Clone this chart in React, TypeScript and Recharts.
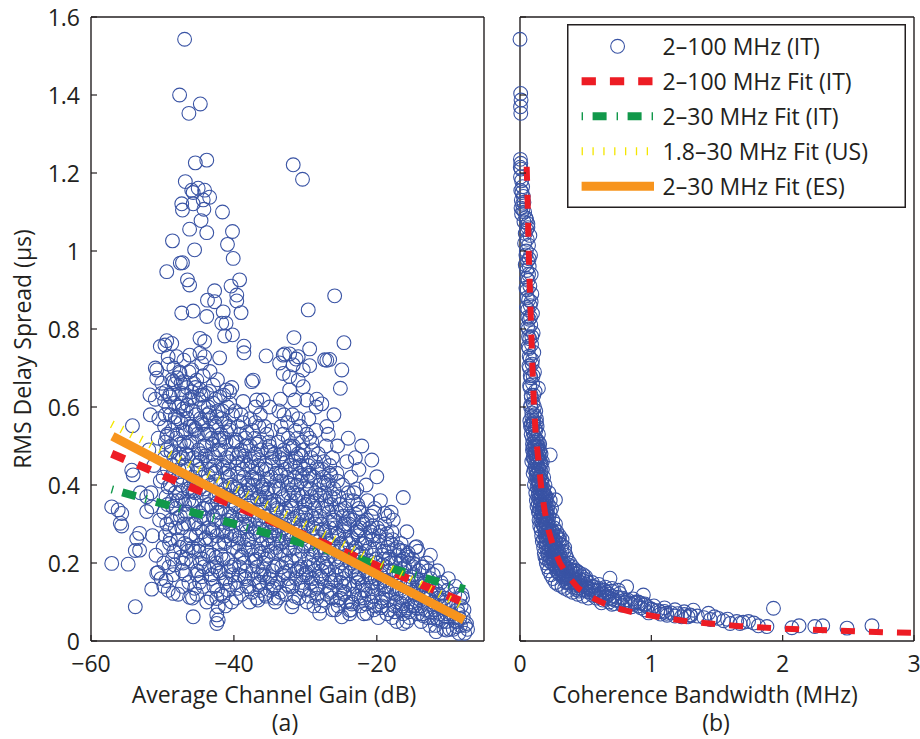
import React from 'react';
import { ComposedChart, Scatter, XAxis, YAxis, Legend } from 'recharts';

type P = [number, number];

// ---------- axes ----------
const gainTicks = [-60, -40, -20];
const delayTicks = [0, 0.2, 0.4, 0.6, 0.8, 1, 1.2, 1.4, 1.6];
const bandwidthTicks = [0, 1, 2, 3];
const gainDomain = [-60, -5];
const delayDomain = [0, 1.6];
const bandwidthDomain = [0, 3];

const axisTitles = ['Average Channel Gain (dB)', 'Coherence Bandwidth (MHz)', 'RMS Delay Spread (\u03bcs)'];
const panelTags = ['(a)', '(b)'];
const legendLabels = [
  '2\u2013100 MHz (IT)',
  '2\u2013100 MHz Fit (IT)',
  '2\u201330 MHz Fit (IT)',
  '1.8\u201330 MHz Fit (US)',
  '2\u201330 MHz Fit (ES)',
];

// ---------- panel (a): delay spread vs. average channel gain ----------
const leftHigh: P[] = [
  [-46.9,1.543],[-47.6,1.40],[-44.7,1.377],[-46.3,1.353],[-45.4,1.226],[-43.8,1.233],[-31.7,1.221],[-30.4,1.184],
  [-46.8,1.178],[-45.9,1.156],[-45.0,1.161],[-44.1,1.156],[-43.4,1.138],[-44.3,1.131],[-47.3,1.121],[-47.2,1.105],
  [-45.7,1.121],[-44.2,1.107],[-45.7,1.15],[-41.6,1.10],[-44.6,1.078],[-46.2,1.056],[-43.8,1.047],[-40.2,1.05],
  [-48.6,1.026],[-40.9,1.017],[-45.5,1.003],[-40.1,.981],[-47.5,.969],[-47.2,.97],[-49.4,.947],[-46.5,.926],
  [-46.2,.913],[-39.2,.926],[-40.4,.91],[-42.7,.898],[-39.6,.887],[-39.6,.872],[-43.7,.874],[-42.7,.87],
  [-25.9,.885],[-29.6,.849],[-47.3,.841],[-45.7,.846],[-43.8,.832],[-41.5,.844],[-39.0,.842],[-41.7,.815],
  [-41.1,.815],[-41.3,.782],[-40.2,.785],[-31.6,.778],[-24.6,.765],[-29.4,.749],[-38.6,.756],[-38.6,.739],
  [-35.5,.731],[-49.4,.77],[-48.7,.763],[-50.3,.755],[-42.0,.726],[-32.9,.736],[-31.3,.723],[-27.3,.721],
  [-26.6,.722],[-29.4,.706],[-24.9,.695],[-51.0,.70],[-50.8,.695],[-33.6,.713],[-37.3,.669],[-25.1,.648],
  [-27.0,.72],[-33.1,.733],[-32.2,.736],[-31.0,.729],[-31.7,.708],[-30.3,.695],[-33.1,.686],[-32.2,.678],
  [-31.0,.669],[-30.3,.652],[-32.2,.644],[-31.5,.618],[-29.8,.618],[-28.4,.62],[-27.7,.608],[-49.65,.759],
  [-44.75,.776],[-44.1,.768],[-49.2,.729],[-48.0,.729],[-46.2,.733],[-44.75,.738],[-44.1,.729],[-47.55,.686],
  [-45.9,.695],[-44.5,.712],[-43.35,.691],[-50.8,.674],[-50.1,.661],[-48.5,.665],[-47.1,.665],[-45.2,.669],
  [-42.9,.656],[-41.0,.644],[-51.75,.631],[-50.1,.635],[-48.95,.626],[-47.3,.635],[-45.9,.639],[-44.3,.631],
  [-41.96,.626],[-40.6,.639],[-38.7,.614],[-37.5,.665],[-36.8,.618],[-35.9,.618],
];

const leftEdge: P[] = [
  [-54.2,.552],[-57.1,.344],[-56.2,.336],[-55.7,.327],[-55.9,.302],[-55.7,.295],[-53.2,.276],[-53.6,.263],
  [-53.2,.233],[-53.8,.232],[-57.1,.199],[-54.8,.197],[-53.8,.088],[-54.3,.438],[-54.1,.426],[-53.1,.38],
  [-52.2,.37],[-51.5,.344],[-52.2,.332],[-50.8,.174],[-50.6,.176],[-51.5,.133],[-48.5,.122],[-46.2,.112],
  [-45.7,.062],[-42.4,.067],[-42.2,.054],[-42.4,.045],[-42.4,.109],[-42.2,.088],[-36.6,.105],[-31.9,.088],
  [-28.0,.071],[-24.9,.062],[-21.4,.071],[-16.3,.045],[-23.8,.079],[-11.7,.024],[-10.25,.028],[-8.85,.037],
  [-7.7,.02],[-7.45,.045],[-8.4,.058],[-16.3,.368],[-17.7,.31],[-18.9,.327],[-22.1,.5],[-20.7,.464],
  [-20.0,.421],[-14.45,.242],[-15.6,.225],[-16.8,.233],[-14.9,.199],[-13.5,.19],
  [-27,.55],[-25.5,.5],[-23,.47],[-22.5,.44],[-26,.58],[-28.5,.6],[-24,.52],[-29.5,.57],[-26.8,.53],
  [-21.5,.4],[-19.5,.36],[-18,.33],[-15.8,.28],[-12.5,.22],[-11.5,.18],[-10,.16],[-9,.14],[-8,.11],
  [-35,.6],[-37,.6],[-33.5,.62],[-36.3,.58],
  [-51.2,.45],[-50.6,.52],[-51.7,.58],[-50.3,.41],[-51.4,.27],[-50.9,.22],[-50.4,.31],[-51.9,.49],
  [-50.2,.16],[-51.0,.62],[-50.5,.57],[-51.6,.38],
];

const leftCoreWest: P[] = [
  [-49.8,.14],[-49.1,.19],[-48.4,.23],[-49.6,.27],[-48.8,.31],[-49.3,.35],[-48.2,.38],[-49.9,.42],[-48.6,.45],
  [-49.4,.49],[-48.1,.52],[-49.7,.55],[-48.9,.58],[-48.3,.61],[-49.5,.64],[-48.7,.67],[-49.2,.71],[-48.5,.17],
  [-49.0,.25],[-48.2,.29],[-49.8,.33],[-48.9,.40],[-49.3,.44],[-48.4,.47],[-49.6,.51],[-48.7,.54],[-49.1,.60],
  [-48.3,.56],[-49.5,.37],[-48.6,.21],[-49.9,.24],[-48.1,.34],[-49.2,.13],[-48.5,.43],[-49.7,.47],[-48.8,.50],
  [-49.0,.63],[-48.2,.66],[-49.4,.30],[-48.9,.26],[-49.6,.58],[-48.4,.70],[-49.3,.53],[-48.6,.36],[-49.8,.20],
  [-47.8,.12],[-46.3,.15],[-47.2,.18],[-46.7,.21],[-47.5,.24],[-46.1,.27],[-47.0,.30],[-46.6,.33],[-47.9,.36],
  [-46.4,.39],[-47.3,.42],[-46.8,.45],[-47.6,.48],[-46.2,.51],[-47.1,.54],[-46.5,.57],[-47.7,.60],[-46.9,.63],
  [-47.4,.66],[-46.3,.69],[-47.0,.72],[-47.8,.26],[-46.4,.23],[-47.3,.29],[-46.9,.35],[-47.6,.38],[-46.1,.41],
  [-47.2,.47],[-46.6,.50],[-47.9,.53],[-46.7,.59],[-47.4,.56],[-46.2,.62],[-47.1,.20],[-46.8,.17],[-47.5,.32],
  [-46.5,.44],[-47.7,.44],[-46.3,.36],[-47.0,.51],[-46.6,.65],[-47.2,.14],[-46.4,.30],[-47.8,.57],[-46.9,.25],
  [-47.4,.40],[-46.1,.55],[-47.6,.69],[-46.7,.48],[-47.3,.61],
  [-45.8,.11],[-44.3,.14],[-45.2,.17],[-44.7,.20],[-45.5,.23],[-44.1,.26],[-45.0,.29],[-44.6,.32],[-45.9,.35],
  [-44.4,.38],[-45.3,.41],[-44.8,.44],[-45.6,.47],[-44.2,.50],[-45.1,.53],[-44.5,.56],[-45.7,.59],[-44.9,.62],
  [-45.4,.65],[-44.3,.68],[-45.8,.24],[-44.4,.21],[-45.3,.27],[-44.9,.33],[-45.6,.36],[-44.1,.39],[-45.2,.45],
  [-44.6,.48],[-45.9,.51],[-44.7,.57],[-45.4,.54],[-44.2,.60],[-45.1,.18],[-44.8,.15],[-45.5,.30],[-44.5,.42],
  [-45.7,.42],[-44.3,.34],[-45.0,.49],[-44.6,.63],[-45.2,.12],[-44.4,.28],[-45.8,.55],[-44.9,.23],[-45.4,.38],
  [-44.1,.53],[-45.6,.66],[-44.7,.46],[-45.3,.58],[-44.2,.19],
  [-43.8,.10],[-42.3,.13],[-43.2,.16],[-42.7,.19],[-43.5,.22],[-42.1,.25],[-43.0,.28],[-42.6,.31],[-43.9,.34],
  [-42.4,.37],[-43.3,.40],[-42.8,.43],[-43.6,.46],[-42.2,.49],[-43.1,.52],[-42.5,.55],[-43.7,.58],[-42.9,.61],
  [-43.4,.64],[-42.3,.67],[-43.8,.23],[-42.4,.20],[-43.3,.26],[-42.9,.32],[-43.6,.35],[-42.1,.38],[-43.2,.44],
  [-42.6,.47],[-43.9,.50],[-42.7,.56],[-43.4,.53],[-42.2,.59],[-43.1,.17],[-42.8,.14],[-43.5,.29],[-42.5,.41],
  [-43.7,.41],[-42.3,.33],[-43.0,.48],[-42.6,.62],[-43.2,.11],[-42.4,.27],[-43.8,.54],[-42.9,.22],[-43.4,.37],
  [-42.1,.52],[-43.6,.60],[-42.7,.45],[-43.3,.57],[-42.2,.18],
];

const leftCoreMid: P[] = [
  [-41.8,.12],[-40.3,.10],[-41.2,.15],[-40.7,.18],[-41.5,.21],[-40.1,.24],[-41.0,.27],[-40.6,.30],[-41.9,.33],
  [-40.4,.36],[-41.3,.39],[-40.8,.42],[-41.6,.45],[-40.2,.48],[-41.1,.51],[-40.5,.54],[-41.7,.57],[-40.9,.60],
  [-41.4,.63],[-40.3,.65],[-41.8,.22],[-40.4,.19],[-41.3,.25],[-40.9,.31],[-41.6,.34],[-40.1,.37],[-41.2,.43],
  [-40.6,.46],[-41.9,.49],[-40.7,.55],[-41.4,.52],[-40.2,.58],[-41.1,.16],[-40.8,.13],[-41.5,.28],[-40.5,.40],
  [-41.7,.40],[-40.3,.32],[-41.0,.47],[-40.6,.61],[-41.2,.09],[-40.4,.26],[-41.8,.53],[-40.9,.21],[-41.4,.36],
  [-40.1,.51],[-41.6,.59],[-40.7,.44],[-41.3,.56],[-40.2,.17],
  [-39.7,.11],[-38.2,.14],[-39.3,.17],[-38.6,.20],[-39.5,.23],[-38.1,.26],[-39.0,.29],[-38.5,.32],[-39.9,.35],
  [-38.4,.38],[-39.2,.41],[-38.8,.44],[-39.6,.47],[-38.3,.50],[-39.1,.53],[-38.7,.56],[-39.8,.59],[-38.9,.22],
  [-39.4,.25],[-38.2,.28],[-39.7,.31],[-38.6,.34],[-39.3,.37],[-38.0,.40],[-39.5,.43],[-38.7,.46],[-39.0,.49],
  [-38.4,.52],[-39.8,.15],[-38.9,.12],[-39.2,.19],[-38.5,.24],[-39.6,.39],[-38.1,.45],[-39.4,.55],[-38.8,.30],
  [-39.1,.33],[-38.3,.18],[-39.9,.27],[-38.6,.42],[-39.3,.48],[-38.0,.36],[-39.7,.51],[-38.4,.16],[-39.0,.58],
  [-37.8,.10],[-36.3,.13],[-37.2,.16],[-36.7,.19],[-37.5,.22],[-36.1,.25],[-37.0,.28],[-36.6,.31],[-37.9,.34],
  [-36.4,.37],[-37.3,.40],[-36.8,.43],[-37.6,.46],[-36.2,.49],[-37.1,.52],[-36.5,.55],[-37.7,.57],[-36.9,.21],
  [-37.4,.24],[-36.3,.27],[-37.8,.30],[-36.7,.33],[-37.2,.36],[-36.0,.39],[-37.5,.42],[-36.6,.45],[-37.0,.48],
  [-36.4,.51],[-37.9,.14],[-36.8,.11],[-37.3,.18],[-36.5,.23],[-37.6,.38],[-36.1,.44],[-37.4,.54],[-36.9,.29],
  [-37.1,.32],[-36.2,.17],[-37.8,.26],[-36.6,.41],[-37.2,.47],[-36.0,.35],[-37.7,.50],[-36.4,.15],[-37.0,.56],
  [-35.7,.12],[-34.2,.10],[-35.3,.15],[-34.6,.18],[-35.5,.21],[-34.1,.24],[-35.0,.27],[-34.5,.30],[-35.9,.33],
  [-34.4,.36],[-35.2,.39],[-34.8,.42],[-35.6,.45],[-34.3,.48],[-35.1,.51],[-34.7,.54],[-35.8,.20],[-34.9,.23],
  [-35.4,.26],[-34.2,.29],[-35.7,.32],[-34.6,.35],[-35.3,.38],[-34.0,.41],[-35.5,.44],[-34.7,.47],[-35.0,.50],
  [-34.4,.14],[-35.8,.17],[-34.9,.13],[-35.2,.22],[-34.5,.25],[-35.6,.37],[-34.1,.43],[-35.4,.53],[-34.8,.28],
  [-35.1,.31],[-34.3,.19],[-35.9,.40],[-34.6,.46],[-35.3,.49],[-34.0,.34],[-35.7,.55],[-34.4,.11],[-35.0,.16],
  [-33.8,.11],[-32.3,.14],[-33.2,.17],[-32.7,.20],[-33.5,.23],[-32.1,.26],[-33.0,.29],[-32.6,.32],[-33.9,.35],
  [-32.4,.38],[-33.3,.41],[-32.8,.44],[-33.6,.47],[-32.2,.50],[-33.1,.53],[-32.5,.56],[-33.7,.59],[-32.9,.22],
  [-33.4,.25],[-32.3,.28],[-33.8,.31],[-32.7,.34],[-33.2,.37],[-32.0,.40],[-33.5,.43],[-32.6,.46],[-33.0,.49],
  [-32.4,.52],[-33.9,.15],[-32.8,.12],[-33.3,.19],[-32.5,.24],[-33.6,.39],[-32.1,.45],[-33.4,.55],[-32.9,.30],
  [-33.1,.33],[-32.2,.18],[-33.7,.27],[-32.6,.42],[-33.2,.48],[-32.0,.36],[-33.8,.51],[-32.4,.16],[-33.0,.58],
  [-31.7,.10],[-30.2,.13],[-31.3,.16],[-30.6,.19],[-31.5,.22],[-30.1,.25],[-31.0,.28],[-30.5,.31],[-31.9,.34],
  [-30.4,.37],[-31.2,.40],[-30.8,.43],[-31.6,.46],[-30.3,.49],[-31.1,.52],[-30.7,.55],[-31.8,.58],[-30.9,.21],
  [-31.4,.24],[-30.2,.27],[-31.7,.30],[-30.6,.33],[-31.3,.36],[-30.0,.39],[-31.5,.42],[-30.7,.45],[-31.0,.48],
  [-30.4,.51],[-31.8,.14],[-30.9,.11],[-31.2,.18],[-30.5,.23],[-31.6,.38],[-30.1,.44],[-31.4,.54],[-30.8,.29],
  [-31.1,.32],[-30.3,.17],[-31.9,.26],[-30.6,.41],[-31.3,.47],[-30.0,.35],[-31.7,.50],[-30.4,.15],[-31.0,.57],
  [-29.8,.10],[-28.3,.12],[-29.2,.15],[-28.7,.18],[-29.5,.21],[-28.1,.24],[-29.0,.27],[-28.6,.30],[-29.9,.33],
  [-28.4,.36],[-29.3,.39],[-28.8,.42],[-29.6,.45],[-28.2,.48],[-29.1,.51],[-28.5,.54],[-29.7,.19],[-28.9,.22],
  [-29.4,.25],[-28.3,.28],[-29.8,.31],[-28.7,.34],[-29.2,.37],[-28.0,.40],[-29.5,.43],[-28.6,.46],[-29.0,.49],
  [-28.4,.14],[-29.9,.17],[-28.8,.09],[-29.3,.13],[-28.5,.23],[-29.6,.36],[-28.1,.44],[-29.4,.52],[-28.9,.29],
  [-29.1,.32],[-28.2,.20],[-29.7,.41],[-28.6,.38],[-29.2,.47],[-28.0,.26],[-29.8,.53],[-28.4,.11],[-29.0,.16],
];

const leftCoreEast: P[] = [
  [-27.8,.09],[-26.3,.11],[-27.2,.14],[-26.7,.17],[-27.5,.20],[-26.1,.23],[-27.0,.26],[-26.6,.29],[-27.9,.32],
  [-26.4,.35],[-27.3,.38],[-26.8,.41],[-27.6,.44],[-26.2,.47],[-27.1,.50],[-26.5,.13],[-27.7,.18],[-26.9,.21],
  [-27.4,.24],[-26.3,.27],[-27.8,.30],[-26.7,.33],[-27.2,.36],[-26.0,.39],[-27.5,.42],[-26.6,.45],[-27.0,.12],
  [-26.4,.15],[-27.9,.22],[-26.8,.25],[-27.3,.28],[-26.5,.37],[-27.6,.34],[-26.1,.31],[-27.4,.46],[-26.9,.40],
  [-27.1,.19],[-26.2,.08],[-27.7,.16],[-26.6,.43],
  [-25.8,.08],[-24.3,.10],[-25.2,.13],[-24.7,.16],[-25.5,.19],[-24.1,.22],[-25.0,.25],[-24.6,.28],[-25.9,.31],
  [-24.4,.34],[-25.3,.37],[-24.8,.40],[-25.6,.43],[-24.2,.46],[-25.1,.11],[-24.5,.14],[-25.7,.17],[-24.9,.20],
  [-25.4,.23],[-24.3,.26],[-25.8,.29],[-24.7,.32],[-25.2,.35],[-24.0,.38],[-25.5,.41],[-24.6,.12],[-25.0,.15],
  [-24.4,.18],[-25.9,.21],[-24.8,.24],[-25.3,.27],[-24.5,.30],[-25.6,.33],[-24.1,.36],[-25.4,.09],
  [-23.8,.07],[-22.3,.09],[-23.2,.12],[-22.7,.15],[-23.5,.18],[-22.1,.21],[-23.0,.24],[-22.6,.27],[-23.9,.30],
  [-22.4,.33],[-23.3,.36],[-22.8,.39],[-23.6,.42],[-22.2,.11],[-23.1,.14],[-22.5,.17],[-23.7,.20],[-22.9,.23],
  [-23.4,.26],[-22.3,.29],[-23.8,.32],[-22.7,.35],[-23.2,.38],[-22.0,.13],[-23.5,.10],[-22.6,.16],[-23.0,.19],
  [-22.4,.22],[-23.9,.25],[-22.8,.28],[-23.3,.31],[-22.5,.34],[-23.6,.08],[-22.1,.25],[-23.4,.21],
  [-21.8,.07],[-20.3,.09],[-21.2,.12],[-20.7,.15],[-21.5,.18],[-20.1,.21],[-21.0,.24],[-20.6,.27],[-21.9,.30],
  [-20.4,.33],[-21.3,.36],[-20.8,.10],[-21.6,.13],[-20.2,.16],[-21.1,.19],[-20.5,.22],[-21.7,.25],[-20.9,.28],
  [-21.4,.31],[-20.3,.34],[-21.8,.11],[-20.7,.14],[-21.2,.17],[-20.0,.20],[-21.5,.23],[-20.6,.26],[-21.0,.29],
  [-20.4,.08],[-21.9,.20],[-20.8,.32],
  [-19.8,.06],[-18.3,.08],[-19.2,.11],[-18.7,.14],[-19.5,.17],[-18.1,.20],[-19.0,.23],[-18.6,.26],[-19.9,.29],
  [-18.4,.32],[-19.3,.09],[-18.8,.12],[-19.6,.15],[-18.2,.18],[-19.1,.21],[-18.5,.24],[-19.7,.27],[-18.9,.30],
  [-19.4,.10],[-18.3,.13],[-19.8,.16],[-18.7,.19],[-19.2,.22],[-18.0,.25],[-19.5,.28],[-18.6,.07],[-19.0,.14],
  [-18.4,.21],
  [-17.8,.06],[-16.3,.07],[-17.2,.10],[-16.7,.13],[-17.5,.16],[-16.1,.19],[-17.0,.22],[-16.6,.25],[-17.9,.28],
  [-16.4,.09],[-17.3,.12],[-16.8,.15],[-17.6,.18],[-16.2,.21],[-17.1,.24],[-16.5,.11],[-17.7,.14],[-16.9,.17],
  [-17.4,.20],[-16.3,.23],[-17.8,.26],[-16.7,.08],[-17.2,.05],[-16.0,.14],[-17.5,.09],
  [-15.8,.05],[-14.3,.07],[-15.2,.09],[-14.7,.12],[-15.5,.15],[-14.1,.18],[-15.0,.21],[-14.6,.24],[-15.9,.08],
  [-14.4,.11],[-15.3,.14],[-14.8,.17],[-15.6,.20],[-14.2,.23],[-15.1,.10],[-14.5,.13],[-15.7,.16],[-14.9,.19],
  [-15.4,.06],[-14.3,.15],[-15.8,.22],[-14.7,.09],
  [-13.8,.05],[-12.3,.06],[-13.2,.08],[-12.7,.11],[-13.5,.14],[-12.1,.17],[-13.0,.20],[-12.6,.04],[-13.9,.09],
  [-12.4,.12],[-13.3,.15],[-12.8,.18],[-13.6,.07],[-12.2,.10],[-13.1,.13],[-12.5,.16],[-13.7,.19],[-12.9,.06],
  [-13.4,.11],[-12.3,.14],
  [-11.8,.04],[-10.3,.05],[-11.2,.07],[-10.7,.09],[-11.5,.11],[-10.1,.13],[-11.0,.15],[-10.6,.03],[-11.9,.08],
  [-10.4,.10],[-11.3,.12],[-10.8,.14],[-11.6,.06],[-10.2,.07],[-11.1,.09],[-10.5,.11],[-11.7,.13],[-10.9,.05],
  [-9.8,.03],[-8.3,.04],[-9.2,.06],[-8.7,.08],[-9.5,.10],[-8.1,.12],[-9.0,.05],[-8.6,.07],[-9.9,.09],
  [-8.4,.11],[-9.3,.03],[-8.8,.05],[-9.6,.07],[-8.2,.09],[-7.6,.04],[-7.9,.06],[-7.3,.03],[-9.1,.12],
  [-8.5,.02],[-7.8,.08],
];

const leftCoreFill: P[] = [
  [-49.5,.155],[-48.3,.195],[-47.4,.215],[-46.5,.245],[-49.0,.285],[-47.9,.315],[-46.8,.325],[-48.6,.345],
  [-47.2,.365],[-46.2,.385],[-49.2,.395],[-48.0,.415],[-46.9,.435],[-47.7,.465],[-48.8,.485],[-46.4,.475],
  [-47.5,.505],[-49.4,.525],[-46.7,.535],[-48.2,.575],[-47.1,.595],[-49.7,.615],[-48.5,.635],[-46.5,.605],
  [-47.9,.675],
  [-45.5,.135],[-44.5,.165],[-43.5,.185],[-42.5,.215],[-45.9,.205],[-44.9,.245],[-43.9,.265],[-42.9,.285],
  [-45.3,.305],[-44.2,.315],[-43.1,.345],[-42.3,.355],[-45.6,.385],[-44.6,.395],[-43.6,.425],[-42.6,.435],
  [-45.1,.465],[-44.0,.475],[-43.0,.505],[-42.0,.515],[-45.4,.545],[-44.4,.555],[-43.4,.585],[-42.4,.575],
  [-45.8,.625],[-44.8,.645],[-43.8,.635],
  [-41.5,.115],[-40.5,.145],[-39.5,.135],[-38.5,.165],[-37.5,.125],[-36.5,.145],[-41.9,.175],[-40.0,.195],
  [-39.0,.215],[-38.0,.235],[-37.0,.205],[-36.2,.225],[-41.3,.255],[-40.3,.275],[-39.3,.265],[-38.3,.295],
  [-37.3,.275],[-36.3,.305],[-41.7,.305],[-40.7,.325],[-39.7,.345],[-38.7,.325],[-37.7,.355],[-36.7,.365],
  [-41.1,.375],[-40.1,.395],[-39.1,.385],[-38.1,.405],[-37.1,.415],[-36.1,.395],[-41.5,.445],[-40.5,.425],
  [-39.5,.455],[-38.5,.475],[-37.5,.445],[-36.5,.465],[-41.0,.535],[-39.8,.515],[-38.2,.535],[-36.8,.505],
  [-35.5,.115],[-34.5,.135],[-33.5,.125],[-32.5,.145],[-31.5,.115],[-30.5,.135],[-35.9,.185],[-34.9,.165],
  [-33.9,.195],[-32.9,.175],[-31.9,.205],[-30.9,.185],[-35.2,.245],[-34.2,.225],[-33.2,.255],[-32.2,.235],
  [-31.2,.265],[-30.2,.245],[-35.6,.285],[-34.6,.305],[-33.6,.295],[-32.6,.275],[-31.6,.315],[-30.6,.295],
  [-35.0,.355],[-34.0,.335],[-33.0,.365],[-32.0,.345],[-31.0,.375],[-30.0,.325],[-35.4,.415],[-34.4,.395],
  [-33.4,.425],[-32.4,.405],[-31.4,.445],[-30.4,.425],[-34.8,.485],[-33.2,.465],[-31.8,.495],[-30.6,.475],
  [-29.5,.115],[-28.5,.135],[-27.5,.105],[-26.5,.125],[-25.5,.105],[-24.5,.125],[-23.5,.095],[-22.5,.115],
  [-21.5,.095],[-20.5,.115],[-29.9,.175],[-28.9,.195],[-27.9,.165],[-26.9,.185],[-25.9,.155],[-24.9,.175],
  [-23.9,.145],[-22.9,.165],[-21.9,.145],[-20.9,.165],[-29.2,.235],[-28.2,.255],[-27.2,.225],[-26.2,.245],
  [-25.2,.215],[-24.2,.235],[-23.2,.205],[-22.2,.225],[-21.2,.205],[-20.2,.235],[-29.6,.295],[-28.6,.315],
  [-27.6,.285],[-26.6,.305],[-25.6,.275],[-24.6,.295],[-23.6,.265],[-22.6,.285],[-21.6,.265],[-20.6,.295],
  [-29.0,.355],[-28.0,.375],[-27.0,.345],[-26.0,.365],[-25.0,.335],[-24.0,.315],[-23.0,.325],[-22.0,.305],
  [-29.4,.425],[-28.4,.445],[-27.4,.405],[-26.4,.425],
  [-19.5,.085],[-18.5,.105],[-17.5,.075],[-16.5,.095],[-15.5,.075],[-14.5,.085],[-13.5,.065],[-12.5,.075],
  [-11.5,.055],[-10.5,.065],[-19.9,.135],[-18.9,.155],[-17.9,.125],[-16.9,.135],[-15.9,.115],[-14.9,.125],
  [-13.9,.105],[-12.9,.115],[-11.9,.095],[-10.9,.105],[-19.2,.195],[-18.2,.215],[-17.2,.175],[-16.2,.185],
  [-15.2,.165],[-14.2,.155],[-13.2,.145],[-12.2,.135],[-19.6,.255],[-18.6,.275],[-17.6,.235],[-16.6,.205],
  [-15.6,.215],
];

// linear fits, panel (a): end points
const fitIT100: P[] = [[-57.1, 0.48], [-7.7, 0.098]];
const fitIT30: P[] = [[-57.1, 0.389], [-7.7, 0.133]];
const fitUS: P[] = [[-57.1, 0.556], [-7.7, 0.087]];
const fitES: P[] = [[-57.0, 0.525], [-7.8, 0.054]];

// ---------- panel (b): delay spread vs. coherence bandwidth ----------
const rightTop: P[] = [
  [0.0,1.543],[.005,1.404],[.008,1.387],[.004,1.37],[.006,1.353],[.003,1.235],[.006,1.225],[.002,1.215],[.008,1.21],
  [.004,1.19],[.012,1.18],[.02,1.165],[.006,1.155],[.015,1.15],[.025,1.14],[.01,1.13],[.03,1.125],[.018,1.12],
  [.008,1.11],[.022,1.105],[.035,1.1],[.012,1.095],
];

const rightColumn: P[] = [
  [.045,1.085],[.06,1.07],[.05,1.055],[.075,1.04],[.055,1.03],[.065,1.015],[.048,1.0],[.08,.99],[.058,.975],
  [.07,.96],[.052,.95],[.085,.94],[.062,.925],[.075,.91],[.055,.9],[.09,.89],[.066,.875],[.078,.86],[.06,.85],
  [.095,.84],[.07,.825],[.082,.81],[.064,.8],[.1,.79],[.074,.775],[.088,.76],[.068,.75],[.105,.74],[.078,.725],
  [.092,.71],[.072,.7],[.11,.69],[.082,.675],[.096,.66],[.076,.65],[.115,.64],[.086,.625],[.1,.61],[.08,.6],
  [.12,.59],[.09,.575],[.104,.565],[.084,.555],[.06,1.06],[.07,.98],[.085,.87],[.09,.78],[.1,.68],[.11,.6],
  [.05,1.08],[.065,.94],[.08,.83],[.095,.72],[.105,.63],[.14,.648],
  [.09,.545],[.12,.54],[.1,.535],[.14,.53],[.11,.525],[.095,.52],[.13,.515],[.105,.51],[.15,.505],[.115,.5],
  [.1,.495],[.135,.49],[.12,.485],[.105,.48],[.145,.475],[.125,.47],[.11,.465],[.155,.46],[.13,.455],[.115,.45],
  [.14,.445],[.12,.44],[.16,.435],[.135,.43],[.125,.425],[.15,.42],[.13,.415],[.165,.41],[.14,.405],[.135,.4],
  [.095,.505],[.1,.47],[.108,.44],[.118,.415],[.085,.53],[.155,.45],[.145,.42],[.16,.48],[.17,.44],[.23,.477],
];

const rightKnee: P[] = [
  [.13,.395],[.15,.39],[.17,.385],[.14,.38],[.19,.375],[.16,.37],[.145,.365],[.18,.36],[.2,.355],[.155,.35],
  [.175,.345],[.15,.34],[.195,.335],[.165,.33],[.185,.325],[.16,.32],[.205,.315],[.175,.31],[.19,.305],[.17,.3],
  [.135,.37],[.14,.35],[.148,.33],[.158,.31],[.21,.34],[.2,.37],[.22,.32],[.18,.39],[.165,.355],[.185,.34],
  [.175,.38],[.195,.36],[.21,.3],[.27,.362],[.16,.395],[.23,.33],[.15,.375],[.18,.315],[.2,.325],[.215,.35],
  [.18,.295],[.2,.29],[.22,.285],[.19,.28],[.24,.275],[.21,.27],[.23,.265],[.26,.26],[.2,.255],[.25,.25],
  [.22,.245],[.27,.24],[.24,.235],[.21,.23],[.28,.225],[.25,.22],[.23,.215],[.3,.21],[.26,.205],[.24,.2],
  [.19,.27],[.2,.24],[.215,.22],[.225,.205],[.28,.28],[.3,.25],[.32,.23],[.26,.29],[.29,.265],[.31,.215],
  [.27,.255],[.33,.205],[.18,.26],[.35,.22],[.3,.27],[.25,.28],[.22,.26],[.27,.215],[.29,.235],[.34,.24],
  [.195,.25],[.235,.23],[.26,.225],[.2,.21],[.32,.26],
  [.26,.198],[.3,.195],[.34,.19],[.28,.188],[.38,.185],[.32,.18],[.36,.178],[.29,.175],[.42,.172],[.33,.17],
  [.4,.166],[.35,.163],[.45,.16],[.38,.158],[.31,.185],[.44,.155],[.36,.152],[.41,.15],[.27,.19],[.3,.172],
  [.34,.16],[.39,.175],[.47,.165],[.5,.158],[.43,.18],[.37,.195],[.48,.17],[.32,.165],[.28,.18],[.46,.15],
];

const rightFill: P[] = [
  [.03,1.075],[.04,1.045],[.035,1.02],[.045,.99],[.04,.965],[.05,.93],[.045,.905],[.055,.88],[.05,.855],
  [.06,.83],[.058,.805],[.065,.78],[.062,.755],[.07,.73],[.068,.705],[.078,.68],[.074,.655],[.085,.63],
  [.082,.605],[.09,.585],[.075,.565],
  [.1,.555],[.125,.56],[.08,.55],[.095,.49],[.115,.48],[.09,.46],[.1,.43],[.11,.4],[.12,.38],[.125,.36],
  [.13,.345],[.14,.33],[.145,.31],[.15,.295],[.16,.285],[.165,.27],[.17,.255],[.18,.24],[.185,.225],[.19,.215],
  [.2,.2],[.21,.19],[.22,.18],[.235,.17],[.25,.16],[.27,.15],[.29,.145],[.32,.14],[.34,.135],[.37,.13],
  [.4,.125],[.44,.12],[.48,.115],[.52,.11],
  [.13,.5],[.15,.49],[.17,.46],[.18,.42],[.19,.4],[.22,.38],[.23,.36],[.24,.34],[.25,.31],[.27,.3],[.28,.27],
  [.3,.26],[.32,.245],[.34,.23],[.36,.21],[.38,.2],[.4,.19],[.42,.18],[.45,.175],[.5,.165],[.55,.15],[.6,.145],
  [.65,.138],[.7,.135],[.75,.13],
  [.14,.5],[.12,.46],[.13,.43],[.145,.4],[.155,.38],[.16,.36],[.17,.33],[.18,.32],[.2,.3],[.21,.28],[.23,.27],
  [.25,.255],[.27,.23],[.29,.22],[.3,.2],[.32,.19],[.35,.18],[.37,.17],[.4,.16],[.43,.15],[.47,.14],[.52,.135],
  [.56,.13],[.6,.12],[.68,.11],[.72,.105],[.8,.1],[.84,.095],
  [.11,.58],[.125,.57],[.1,.56],[.13,.55],[.115,.545],[.12,.52],[.14,.51],[.105,.5],[.125,.495],[.15,.485],
  [.13,.47],[.14,.465],[.16,.455],[.145,.44],[.125,.435],[.155,.425],[.165,.415],[.14,.41],[.17,.4],[.15,.4],
  [.18,.38],[.165,.375],[.2,.365],[.185,.35],[.17,.34],[.205,.33],[.19,.32],[.175,.315],[.215,.31],[.2,.3],
  [.225,.295],[.185,.29],[.24,.285],[.215,.275],[.25,.265],[.2,.265],[.235,.25],[.265,.245],[.245,.24],[.28,.235],
  [.22,.235],[.26,.23],[.3,.225],[.24,.215],[.28,.21],[.32,.2],[.25,.21],[.29,.2],[.34,.195],[.3,.185],
  [.36,.185],[.33,.175],[.4,.18],[.37,.165],[.42,.16],[.35,.15],[.48,.155],[.44,.145],[.52,.15],[.5,.13],
  [.56,.14],[.6,.135],[.64,.13],[.68,.12],[.7,.115],[.78,.11],[.8,.105],[.9,.1],[.95,.095],[1.02,.09],
  [1.1,.085],[1.18,.08],[1.25,.075],
];

const rightTail: P[] = [
  [.38,.148],[.42,.145],[.46,.143],[.4,.14],[.5,.138],[.44,.136],[.54,.133],[.48,.131],[.58,.128],[.52,.126],
  [.62,.124],[.56,.122],[.45,.128],[.6,.13],[.66,.125],[.5,.145],[.7,.128],[.36,.15],[.55,.14],[.64,.12],
  [.43,.132],[.58,.118],[.685,.161],[.812,.139],[.76,.122],
  [.55,.118],[.6,.115],[.65,.112],[.58,.11],[.7,.108],[.63,.105],[.75,.103],[.68,.1],[.8,.098],[.72,.096],
  [.85,.094],[.78,.092],[.9,.09],[.66,.115],[.74,.112],[.82,.105],[.88,.1],[.92,.097],[.939,.118],[.876,.097],
  [.95,.092],[.62,.098],[.7,.094],[.86,.108],[.97,.088],
  [.85,.088],[.92,.085],[1.0,.082],[.95,.08],[1.05,.078],[1.1,.076],[1.015,.079],[1.066,.075],[1.117,.071],
  [1.15,.072],[1.2,.07],[1.25,.068],[1.3,.065],[1.12,.066],[1.18,.064],[1.28,.062],[.98,.072],[1.07,.069],
  [1.32,.079],[1.295,.067],
  [1.23,.062],[1.435,.071],[1.51,.058],[1.6,.045],[1.675,.045],[1.74,.05],[1.815,.039],[1.88,.037],[1.93,.084],
  [2.07,.034],[2.125,.039],[2.245,.037],[2.305,.039],[2.49,.033],[2.68,.039],[1.4,.06],[1.45,.055],[1.55,.052],
  [1.65,.05],[1.7,.048],[1.35,.064],[1.48,.062],[1.58,.056],[1.78,.046],
];

// power-law fit, panel (b): points
const fitBandwidth: P[] = [
  [0.051,1.216],[0.058,1.13],[0.066,1.0],[0.075,0.9],[0.085,0.8],[0.095,0.7],[0.107,0.6],[0.12,0.53],[0.14,0.464],
  [0.165,0.383],[0.19,0.33],[0.216,0.285],[0.26,0.235],[0.305,0.199],[0.37,0.165],[0.444,0.135],[0.54,0.113],
  [0.635,0.097],[0.75,0.083],[0.863,0.073],[1.066,0.061],[1.28,0.05],[1.5,0.043],[1.675,0.038],[1.93,0.033],
  [2.13,0.03],[2.39,0.027],[2.79,0.022],[3.0,0.021],
];

// ---------- styling ----------
const BLUE = '#3953a4';
const RED = '#ed1c24';
const GREEN = '#11984a';
const YELLOW = '#f4e600';
const ORANGE = '#f7941d';
const INK = '#231f20';
const FONT = '"Open Sans", sans-serif';
const FS = 23;

const toXY = (pts: P[]) => pts.map(([x, y]) => ({ x, y }));
const fmt = (v: number) => String(v).replace('-', '\u2212');

const axisLine = { stroke: INK, strokeWidth: 1.4 };
const tickLine = { stroke: INK, strokeWidth: 1.2 };

const Ring = (props: any) => {
  const { cx, cy } = props;
  if (cx == null || cy == null || isNaN(cx) || isNaN(cy)) return <g />;
  return <circle cx={cx} cy={cy} r={6.9} fill="none" stroke={BLUE} strokeWidth={1.1} />;
};
const NoMark = () => <g />;

const BottomTick = (props: any) => {
  const { x, y, payload } = props;
  return (
    <g>
      <line x1={x} x2={x} y1={y} y2={y - 6} stroke={INK} strokeWidth={1.2} />
      <text x={x} y={y + 31} textAnchor="middle" fontFamily={FONT} fontSize={FS} fill={INK}>
        {fmt(payload.value)}
      </text>
    </g>
  );
};

const LeftTick = (props: any) => {
  const { x, y, payload, showLabel } = props;
  return (
    <g>
      <line x1={x} x2={x + 6} y1={y} y2={y} stroke={INK} strokeWidth={1.2} />
      {showLabel ? (
        <text x={x - 11} y={y + 9.3} textAnchor="end" fontFamily={FONT} fontSize={FS} fill={INK}>
          {fmt(payload.value)}
        </text>
      ) : null}
    </g>
  );
};

const XTitle = (cx: number, title: string, tag: string) => () => (
  <g>
    <text x={cx} y={703} textAnchor="middle" fontFamily={FONT} fontSize={FS} fill={INK}>{title}</text>
    <text x={cx + 11} y={731} textAnchor="middle" fontFamily={FONT} fontSize={FS} fill={INK}>{tag}</text>
  </g>
);

const YTitle = () => (
  <text transform="translate(31,349) rotate(-90)" textAnchor="middle" fontFamily={FONT} fontSize={FS} fill={INK}>
    {axisTitles[2]}
  </text>
);

const LegendBox = () => {
  const rowY = (i: number) => 22.3 + 35 * i;
  const x0 = 14.6;
  const x1 = 87;
  return (
    <svg width={340} height={186} style={{ display: 'block', overflow: 'visible' }}>
      <rect x={0.75} y={0.75} width={337.5} height={182.5} fill="#ffffff" stroke={INK} strokeWidth={1.5} />
      <circle cx={50.6} cy={rowY(0)} r={6.9} fill="none" stroke={BLUE} strokeWidth={1.1} />
      <line x1={x0} x2={x1} y1={rowY(1)} y2={rowY(1)} stroke={RED} strokeWidth={8} strokeDasharray="14.3 14" />
      <line x1={x0} x2={x1} y1={rowY(2)} y2={rowY(2)} stroke={GREEN} strokeWidth={8} strokeDasharray="1.4 9.6 14 10" />
      <line x1={x0} x2={82} y1={rowY(3)} y2={rowY(3)} stroke={YELLOW} strokeWidth={8} strokeDasharray="1.3 9.55" />
      <line x1={x0} x2={x1} y1={rowY(4)} y2={rowY(4)} stroke={ORANGE} strokeWidth={9} />
      {legendLabels.map((t, i) => (
        <text key={t} x={95.6} y={rowY(i) + 8.2} fontFamily={FONT} fontSize={FS} fill={INK}>{t}</text>
      ))}
    </svg>
  );
};

const leftData = toXY([...leftCoreWest, ...leftCoreMid, ...leftCoreEast, ...leftCoreFill, ...leftEdge, ...leftHigh]);
const rightData = toXY([...rightTop, ...rightColumn, ...rightFill, ...rightKnee, ...rightTail]);

const fitLine = (pts: P[], stroke: string, width: number, dash?: string) => (
  <Scatter
    xAxisId="b" yAxisId="l" data={toXY(pts)} shape={NoMark} lineType="joint"
    line={{ stroke, strokeWidth: width, strokeDasharray: dash, fill: 'none' }}
    isAnimationActive={false} legendType="none"
  />
);

export default function App() {
  return (
    <div style={{ position: 'absolute', left: 0, top: 0, width: 920, height: 739, background: '#fff', fontFamily: FONT }}>
      <div style={{ position: 'absolute', left: 0, top: 0 }}>
        <ComposedChart width={500} height={739} margin={{ top: 17, right: 16, bottom: 38, left: 11 }}>
          <XAxis
            xAxisId="b" dataKey="x" type="number" domain={gainDomain} ticks={gainTicks} interval={0}
            height={60} tickSize={0} tickMargin={0} tickLine={false} axisLine={axisLine}
            tick={(p: any) => <BottomTick {...p} />}
            label={XTitle(274, axisTitles[0], panelTags[0])}
          />
          <XAxis
            xAxisId="t" orientation="top" mirror type="number" domain={gainDomain} ticks={gainTicks} interval={0}
            tick={false} tickSize={6} tickLine={tickLine} axisLine={axisLine} allowDataOverflow
          />
          <YAxis
            yAxisId="l" dataKey="y" type="number" domain={delayDomain} ticks={delayTicks} interval={0}
            width={80} tickSize={0} tickMargin={0} tickLine={false} axisLine={axisLine}
            tick={(p: any) => <LeftTick {...p} showLabel />}
            label={YTitle}
          />
          <YAxis
            yAxisId="r" orientation="right" mirror type="number" domain={delayDomain} ticks={delayTicks} interval={0}
            tick={false} tickSize={6} tickLine={tickLine} axisLine={axisLine} allowDataOverflow
          />
          <Scatter xAxisId="b" yAxisId="l" data={leftData} shape={Ring} isAnimationActive={false} />
          {fitLine(fitIT100, RED, 8, '14 14')}
          {fitLine(fitIT30, GREEN, 8, '1.4 9.6 14 10')}
          {fitLine(fitUS, YELLOW, 8, '1.3 9.55')}
          {fitLine(fitES, ORANGE, 9)}
        </ComposedChart>
      </div>
      <div style={{ position: 'absolute', left: 500, top: 0 }}>
        <ComposedChart width={420} height={739} margin={{ top: 17, right: 6, bottom: 38, left: 0 }}>
          <XAxis
            xAxisId="b" dataKey="x" type="number" domain={bandwidthDomain} ticks={bandwidthTicks} interval={0}
            height={60} tickSize={0} tickMargin={0} tickLine={false} axisLine={axisLine}
            tick={(p: any) => <BottomTick {...p} />}
            label={XTitle(205, axisTitles[1], panelTags[1])}
          />
          <XAxis
            xAxisId="t" orientation="top" mirror type="number" domain={bandwidthDomain} ticks={bandwidthTicks} interval={0}
            tick={false} tickSize={6} tickLine={tickLine} axisLine={axisLine} allowDataOverflow
          />
          <YAxis
            yAxisId="l" dataKey="y" type="number" domain={delayDomain} ticks={delayTicks} interval={0}
            width={20} tickSize={0} tickMargin={0} tickLine={false} axisLine={axisLine}
            tick={(p: any) => <LeftTick {...p} />}
          />
          <YAxis
            yAxisId="r" orientation="right" mirror type="number" domain={delayDomain} ticks={delayTicks} interval={0}
            tick={false} tickSize={6} tickLine={tickLine} axisLine={axisLine} allowDataOverflow
          />
          <Scatter xAxisId="b" yAxisId="l" data={rightData} shape={Ring} isAnimationActive={false} />
          {fitLine(fitBandwidth, RED, 6, '14 14')}
          <Legend
            layout="vertical" align="center" verticalAlign="middle"
            wrapperStyle={{ position: 'absolute', left: 67, top: 24, width: 340, height: 186 }}
            content={() => <LegendBox />}
          />
        </ComposedChart>
      </div>
    </div>
  );
}
